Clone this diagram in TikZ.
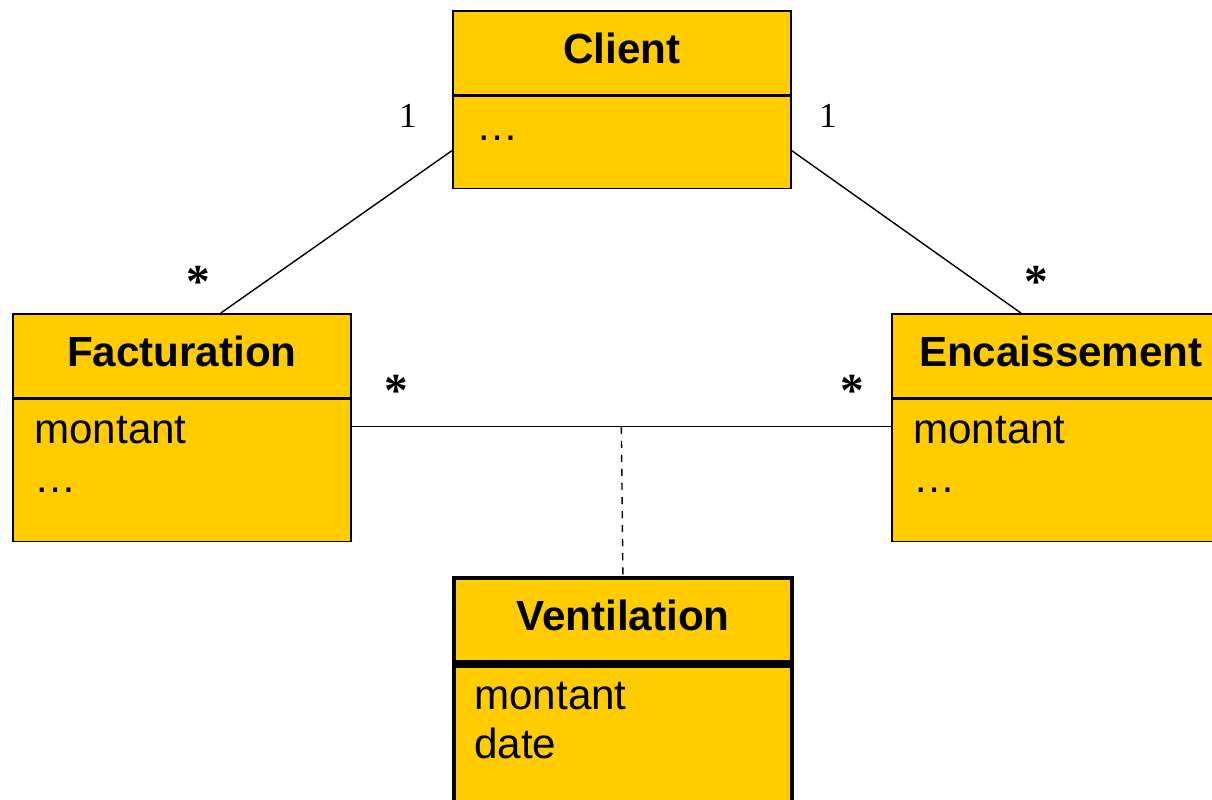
\documentclass[tikz,border=0pt]{standalone}
\usepackage{fontspec}
\setmainfont{Liberation Sans}
\newfontfamily\multfont{Liberation Serif}
\usetikzlibrary{positioning}
\definecolor{classyellow}{HTML}{FFCC00}

\begin{document}
\begin{tikzpicture}[
    x=0.02cm, y=-0.02cm,
    classhead/.style={rectangle, draw, fill=classyellow, line width=1pt, minimum width=6.76cm, minimum height=1.68cm, inner sep=0pt, text depth=4.8pt, font=\bfseries\fontsize{24}{28}\selectfont},
    classbody/.style={rectangle, draw, fill=classyellow, line width=1pt, minimum width=6.76cm, inner sep=0pt},
    attrs/.style={anchor=north west, align=left, inner sep=0pt, font=\fontsize{24}{28}\selectfont},
    mult/.style={inner sep=0pt, font=\multfont\fontsize{20}{24}\selectfont},
    star/.style={inner sep=0pt, font=\multfont\bfseries\fontsize{27}{30}\selectfont},
    link/.style={line width=0.8pt}
]
\useasboundingbox (0,0) rectangle (1212,800);
\clip (0,0) rectangle (1212,800);

% Classes
\node[classhead, anchor=north west] (chead) at (452,10) {Client};
\node[classbody, minimum height=1.84cm, below=0pt of chead] (cbody) {};
\node[attrs] (cattr) at ([shift={(0.48cm,-0.2cm)}]cbody.north west) {\strut …};

\node[classhead, anchor=north west] (fhead) at (12,313) {Facturation};
\node[classbody, minimum height=2.84cm, below=0pt of fhead] (fbody) {};
\node[attrs] (fattr) at ([shift={(0.44cm,-0.2cm)}]fbody.north west) {\strut montant\\…};

\node[classhead, anchor=north west] (ehead) at (891,313) {Encaissement};
\node[classbody, minimum height=2.84cm, below=0pt of ehead] (ebody) {};
\node[attrs] (eattr) at ([shift={(0.44cm,-0.2cm)}]ebody.north west) {\strut montant\\…};

\node[classhead, line width=2.2pt, anchor=north west] (vhead) at (452,576) {Ventilation};
\node[classbody, line width=2.2pt, minimum height=3cm, below=0pt of vhead] (vbody) {};
\node[attrs] (vattr) at ([shift={(0.44cm,-0.22cm)}]vbody.north west) {\strut montant\\date};

% Associations
\draw[link] ([yshift=-0.16cm]cbody.west) -- ([xshift=0.78cm]fhead.north);
\draw[link] ([yshift=-0.16cm]cbody.east) -- ([xshift=-0.8cm]ehead.north);
\draw[link] ([yshift=-0.56cm]fbody.north east) -- coordinate (mid) ([yshift=-0.56cm]ebody.north west);
\draw[link, dash pattern=on 4pt off 4pt] (mid) -- (vhead.north);

% Multiplicities
\node[mult] (mcf) at (408,116) {1};
\node[mult] (mce) at (828,116) {1};
\node[star] (mfc) at (198,282) {*};
\node[star] (mec) at (1036,282) {*};
\node[star] (mfe) at (396,391) {*};
\node[star] (mef) at (852,391) {*};

\end{tikzpicture}
\end{document}
